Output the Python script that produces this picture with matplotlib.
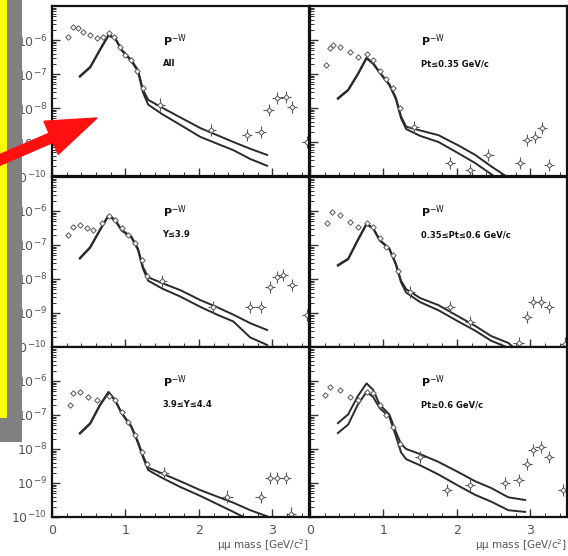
import matplotlib
matplotlib.use("Agg")
import matplotlib.pyplot as plt
import numpy as np
from matplotlib.patches import Rectangle, FancyArrow
from matplotlib.ticker import LogLocator, NullFormatter, MultipleLocator, FixedLocator

# --- data (log10 of dN/dM) ----------------------------------------------
MODEL_X = [0.38, 0.52, 0.65, 0.77, 0.86, 0.95, 1.08, 1.17, 1.24, 1.31,
           1.50, 1.75, 2.02, 2.25, 2.47, 2.70, 2.93]

ALL_UP = [-7.06, -6.79, -6.29, -5.85, -5.94, -6.29, -6.59, -6.88, -7.47, -7.76,
          -7.99, -8.28, -8.59, -8.80, -9.00, -9.20, -9.38]
ALL_LO = [-7.08, -6.81, -6.31, -5.87, -5.96, -6.31, -6.62, -6.92, -7.55, -7.90,
          -8.18, -8.50, -8.85, -9.05, -9.24, -9.50, -9.70]
PT1_UP = [-7.71, -7.46, -7.00, -6.52, -6.68, -6.95, -7.30, -7.70, -8.25, -8.55,
          -8.66, -8.80, -9.10, -9.38, -9.72, -10.05, -10.5]
PT1_LO = [-7.73, -7.48, -7.02, -6.54, -6.70, -6.97, -7.32, -7.74, -8.30, -8.62,
          -8.82, -9.00, -9.33, -9.62, -9.95, -10.3, -10.6]
Y1_UP = [-7.38, -7.06, -6.56, -6.12, -6.26, -6.56, -6.75, -7.10, -7.65, -7.95,
         -8.12, -8.33, -8.62, -8.83, -9.05, -9.30, -9.50]
Y1_LO = [-7.40, -7.08, -6.58, -6.14, -6.28, -6.58, -6.78, -7.14, -7.70, -8.05,
         -8.28, -8.52, -8.82, -9.05, -9.25, -9.72, -9.94]
PT2_UP = [-7.59, -7.40, -6.85, -6.37, -6.50, -6.85, -7.10, -7.55, -8.05, -8.30,
          -8.56, -8.77, -9.10, -9.38, -9.68, -9.88, -10.3]
PT2_LO = [-7.61, -7.42, -6.87, -6.39, -6.52, -6.87, -7.12, -7.58, -8.10, -8.40,
          -8.68, -8.92, -9.25, -9.52, -9.82, -10.02, -10.4]
Y2_UP = [-7.53, -7.24, -6.71, -6.32, -6.56, -6.94, -7.33, -7.78, -8.20, -8.55,
         -8.72, -8.95, -9.21, -9.40, -9.58, -9.80, -9.98]
Y2_LO = [-7.55, -7.26, -6.73, -6.34, -6.58, -6.96, -7.35, -7.82, -8.25, -8.62,
         -8.85, -9.12, -9.38, -9.62, -9.85, -10.1, -10.3]
PT3_UP = [-7.24, -6.98, -6.45, -6.07, -6.26, -6.70, -6.98, -7.50, -7.85, -8.00,
          -8.15, -8.38, -8.68, -8.95, -9.15, -9.42, -9.50]
PT3_LO = [-7.53, -7.28, -6.70, -6.32, -6.47, -6.80, -7.05, -7.62, -8.10, -8.30,
          -8.48, -8.75, -9.08, -9.35, -9.55, -9.80, -9.85]

ALL_PX = [0.22, 0.29, 0.36, 0.42, 0.52, 0.61, 0.70, 0.77, 0.84, 0.92, 1.00, 1.08, 1.16, 1.24]
ALL_PY = [-5.91, -5.62, -5.65, -5.76, -5.85, -5.94, -5.91, -5.79, -5.92, -6.20, -6.45, -6.60, -6.90, -7.40]
ALL_HX = [1.47, 2.16, 2.66, 2.84, 2.95, 3.07, 3.18, 3.27, 3.47]
ALL_HY = [-7.90, -8.65, -8.79, -8.70, -8.06, -7.71, -7.68, -7.97, -9.00]

PT1_PX = [0.22, 0.27, 0.32, 0.41, 0.55, 0.66, 0.78, 0.86, 0.95, 1.04, 1.13, 1.22]
PT1_PY = [-6.74, -6.24, -6.15, -6.21, -6.35, -6.50, -6.40, -6.60, -6.92, -7.15, -7.40, -8.00]
PT1_HX = [1.41, 1.91, 2.18, 2.43, 2.86, 2.96, 3.07, 3.16, 3.25]
PT1_HY = [-8.56, -9.62, -9.82, -9.38, -9.62, -8.94, -8.85, -8.59, -9.68]

Y1_PX = [0.22, 0.29, 0.38, 0.47, 0.56, 0.68, 0.77, 0.86, 0.95, 1.04, 1.13, 1.22, 1.30]
Y1_PY = [-6.71, -6.47, -6.41, -6.50, -6.56, -6.35, -6.15, -6.25, -6.50, -6.70, -6.95, -7.45, -7.90]
Y1_HX = [1.50, 2.19, 2.70, 2.84, 2.97, 3.07, 3.15, 3.27, 3.47]
Y1_HY = [-8.05, -8.82, -8.82, -8.82, -8.24, -7.94, -7.88, -8.18, -9.05]

PT2_PX = [0.23, 0.30, 0.41, 0.55, 0.66, 0.78, 0.86, 0.95, 1.04, 1.13, 1.20]
PT2_PY = [-6.35, -6.03, -6.12, -6.32, -6.47, -6.35, -6.48, -6.80, -7.05, -7.30, -7.75]
PT2_HX = [1.36, 1.91, 2.18, 2.84, 2.96, 3.04, 3.14, 3.25, 3.47]
PT2_HY = [-8.38, -8.82, -9.26, -9.88, -9.12, -8.68, -8.68, -8.82, -9.90]

Y2_PX = [0.25, 0.29, 0.38, 0.49, 0.61, 0.77, 0.86, 0.95, 1.04, 1.13, 1.22, 1.30]
Y2_PY = [-6.71, -6.35, -6.32, -6.47, -6.56, -6.44, -6.55, -6.90, -7.20, -7.60, -8.10, -8.45]
Y2_HX = [1.52, 2.39, 2.84, 2.97, 3.07, 3.18, 3.25]
Y2_HY = [-8.70, -9.40, -9.41, -8.85, -8.85, -8.85, -9.90]

PT3_PX = [0.20, 0.27, 0.41, 0.55, 0.66, 0.78, 0.86, 0.95, 1.04, 1.13, 1.22]
PT3_PY = [-6.41, -6.18, -6.26, -6.47, -6.56, -6.32, -6.35, -6.70, -7.00, -7.35, -7.85]
PT3_HX = [1.50, 1.87, 2.18, 2.66, 2.84, 2.96, 3.04, 3.14, 3.25, 3.45]
PT3_HY = [-8.24, -9.21, -9.06, -9.00, -8.91, -8.44, -8.03, -7.94, -8.24, -9.21]

CUTS = ["All", "Pt≤0.35 GeV/c", "Y≤3.9", "0.35≤Pt≤0.6 GeV/c", "3.9≤Y≤4.4", "Pt≥0.6 GeV/c"]
X_TICKS = [0, 1, 2, 3]
Y_TICKS = [1e-10, 1e-9, 1e-8, 1e-7, 1e-6]

PANELS = [
    (ALL_UP, ALL_LO, ALL_PX, ALL_PY, ALL_HX, ALL_HY),
    (PT1_UP, PT1_LO, PT1_PX, PT1_PY, PT1_HX, PT1_HY),
    (Y1_UP, Y1_LO, Y1_PX, Y1_PY, Y1_HX, Y1_HY),
    (PT2_UP, PT2_LO, PT2_PX, PT2_PY, PT2_HX, PT2_HY),
    (Y2_UP, Y2_LO, Y2_PX, Y2_PY, Y2_HX, Y2_HY),
    (PT3_UP, PT3_LO, PT3_PX, PT3_PY, PT3_HX, PT3_HY),
]

W, H = 568, 556
INK = "#2a2a2a"

fig = plt.figure(figsize=(W / 100, H / 100), dpi=100)
fig.patch.set_facecolor("white")

col_left = [52, 310]
row_top = [6, 177, 347]
ax_w, ax_h = 257, 170

for i, (up, lo, px, py, hx, hy) in enumerate(PANELS):
    r, c = divmod(i, 2)
    ax = fig.add_axes([col_left[c] / W, 1 - (row_top[r] + ax_h) / H, ax_w / W, ax_h / H])
    ax.set_yscale("log")
    ax.set_xlim(0, 3.5)
    ax.set_ylim(1e-10, 1e-5)

    ax.plot(MODEL_X, 10 ** np.array(up), color=INK, lw=1.4)
    ax.plot(MODEL_X, 10 ** np.array(lo), color=INK, lw=1.4)

    ax.plot(px, 10 ** np.array(py), ls="none", marker="D", ms=2.8, mfc="white",
            mec="#555555", mew=0.7)
    hy_v = 10 ** np.array(hy)
    ax.errorbar(hx, hy_v, xerr=0.07,
                yerr=[hy_v - hy_v * 10 ** -0.18, hy_v * 10 ** 0.18 - hy_v],
                fmt="D", ms=2.8, mfc="white", mec="#555555", mew=0.7,
                ecolor="#555555", elinewidth=0.8, capsize=0)

    ax.text(0.43, 0.77, r"$\mathbf{P}^{\mathrm{-W}}$", transform=ax.transAxes,
            fontsize=8, color="#111111")
    ax.text(0.43, 0.645, CUTS[i], transform=ax.transAxes, fontsize=6,
            fontweight="bold", color="#111111")

    for s in ax.spines.values():
        s.set_linewidth(1.6)
        s.set_color("#111111")
    ax.xaxis.set_major_locator(FixedLocator(X_TICKS))
    ax.xaxis.set_minor_locator(MultipleLocator(0.2))
    ax.yaxis.set_major_locator(FixedLocator(Y_TICKS))
    ax.yaxis.set_minor_locator(LogLocator(base=10, subs=np.arange(2, 10), numticks=20))
    ax.yaxis.set_minor_formatter(NullFormatter())
    ax.tick_params(which="both", direction="in", top=False, right=False,
                   color="#333333", labelcolor="#555555", labelsize=9)
    ax.tick_params(which="major", length=6, width=1)
    ax.tick_params(which="minor", length=3, width=0.7)
    ax.tick_params(axis="x", pad=5)

    if c == 1:
        ax.set_yticklabels([])
    else:
        ax.set_yticklabels([r"$10^{-%d}$" % k for k in (10, 9, 8, 7, 6)])
    if r < 2:
        ax.set_xticklabels([])
    else:
        ax.set_xticklabels([str(t) for t in X_TICKS])
        ax.set_xlabel("μμ mass [GeV/c$^{2}$]", loc="right", fontsize=7.5,
                      color="#555555", labelpad=0)

# yellow side panel with gray frame
fig.add_artist(Rectangle((0, (H - 418) / H), 7 / W, 418 / H, transform=fig.transFigure,
                         facecolor="#ffff00", edgecolor="none", zorder=5))
fig.add_artist(Rectangle((7 / W, (H - 442) / H), 15 / W, 442 / H, transform=fig.transFigure,
                         facecolor="#808080", edgecolor="none", zorder=5))
fig.add_artist(Rectangle((0, (H - 442) / H), 22 / W, 24 / H, transform=fig.transFigure,
                         facecolor="#808080", edgecolor="none", zorder=5))

# red arrow
fig.add_artist(FancyArrow(-0.05, (H - 162) / 100, 1.02, 0.44, width=0.1,
                          head_width=0.36, head_length=0.5, length_includes_head=True,
                          transform=fig.dpi_scale_trans, color="#ff1010", zorder=6))

fig.savefig("out.png", dpi=100)
